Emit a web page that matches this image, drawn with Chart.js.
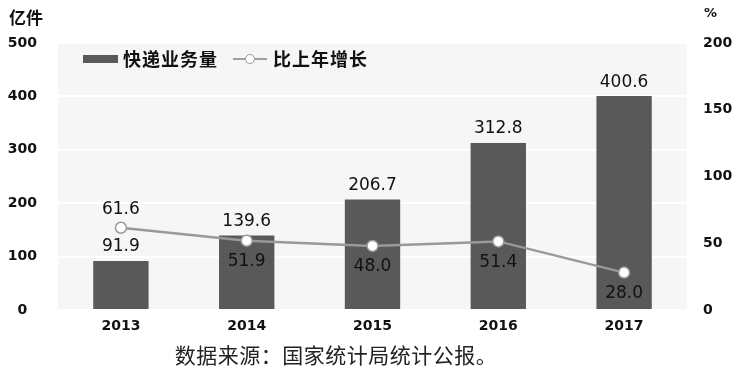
<!DOCTYPE html>
<html>
<head>
<meta charset="utf-8">
<script src="https://cdn.jsdelivr.net/npm/chart.js@4/dist/chart.umd.min.js"></script>
<style>
  body { margin: 0; background: #fff; }
  #wrap { position: relative; width: 736px; height: 370px; font-family: "DejaVu Sans", sans-serif; }
  #wrap canvas { position: absolute; left: 0; top: 0; }
  .unit { position: absolute; font-weight: bold; color: #111; font-family: "Noto Sans CJK SC", sans-serif; }
  .legend { position: absolute; top: 45px; font-size: 18px; letter-spacing: 1px; font-weight: bold; color: #111; font-family: "Noto Sans CJK SC", sans-serif; line-height: 26px; }
  #caption { position: absolute; left: 0; width: 672px; top: 340px; text-align: center; font-size: 21px; letter-spacing: 0.5px; color: #222; font-family: "Noto Sans CJK SC", sans-serif; line-height: 28px; }
</style>
</head>
<body>
<div id="wrap">
  <canvas id="chart" width="736" height="370"></canvas>
  <div class="unit" style="left:9px; top:4px; font-size:17px;">亿件</div>
  <div class="unit" style="left:704px; top:5px; font-size:13px; font-family:'DejaVu Sans',sans-serif;">%</div>
  <div class="legend" style="left:83px;"><span style="display:inline-block;width:35px;height:8px;background:#595959;vertical-align:middle;margin-right:5px;position:relative;top:-2px;"></span>快递业务量</div>
  <div class="legend" style="left:233px;">
    <span style="display:inline-block;position:relative;width:34px;height:10px;vertical-align:middle;margin-right:6px;top:-2px;">
      <span style="position:absolute;left:0;top:4px;width:34px;height:2px;background:#a0a0a0;"></span>
      <span style="position:absolute;left:12px;top:0;width:8px;height:8px;border:1px solid #999;border-radius:50%;background:#fff;"></span>
    </span>比上年增长</div>
  <div id="caption">数据来源：国家统计局统计公报。</div>
</div>
<script>
// 数据
const years = ['2013', '2014', '2015', '2016', '2017'];
const volume = [91.9, 139.6, 206.7, 312.8, 400.6];   // 快递业务量 (亿件)
const growth = [61.6, 51.9, 48.0, 51.4, 28.0];       // 比上年增长 (%)
const growthLabelAbove = [true, false, false, false, false];

const tickFont = { family: '"DejaVu Sans", sans-serif', size: 14, weight: 'bold' };

// plot background
const bgPlugin = {
    id: 'plotBg',
    beforeDraw(chart) {
        const a = chart.chartArea, ctx = chart.ctx;
        ctx.save();
        ctx.fillStyle = '#f6f6f6';
        ctx.fillRect(a.left, a.top, a.right - a.left, a.bottom - a.top);
        ctx.restore();
    }
};

// value labels
const labelPlugin = {
    id: 'valueLabels',
    afterDatasetsDraw(chart) {
        const ctx = chart.ctx;
        ctx.save();
        ctx.font = '17px "DejaVu Sans", sans-serif';
        ctx.fillStyle = '#111';
        ctx.textAlign = 'center';
        ctx.textBaseline = 'middle';
        chart.getDatasetMeta(1).data.forEach((el, i) => {
            ctx.fillText(volume[i].toFixed(1), el.x, el.y - 14);
        });
        chart.getDatasetMeta(0).data.forEach((el, i) => {
            const dy = growthLabelAbove[i] ? -18 : 21;
            ctx.fillText(growth[i].toFixed(1), el.x, el.y + dy);
        });
        ctx.restore();
    }
};

new Chart(document.getElementById('chart'), {
    data: {
        labels: years,
        datasets: [
            {
                type: 'line', label: '比上年增长', data: growth, yAxisID: 'y1', order: 0,
                borderColor: '#999999', borderWidth: 2.5, tension: 0,
                pointRadius: 5.5, pointBackgroundColor: '#fff', pointBorderColor: '#999999', pointBorderWidth: 1.5
            },
            {
                type: 'bar', label: '快递业务量', data: volume, yAxisID: 'y', order: 1,
                backgroundColor: '#595959', barPercentage: 0.44, categoryPercentage: 1
            }
        ]
    },
    options: {
        responsive: false,
        animation: false,
        layout: { padding: { top: 43, bottom: 0, left: 0, right: 0 } },
        plugins: { legend: { display: false }, tooltip: { enabled: false } },
        scales: {
            x: {
                grid: { display: false, drawTicks: false },
                border: { display: false },
                ticks: { font: tickFont, color: '#111', padding: 8 },
                afterFit(s) { s.height = 60; }
            },
            y: {
                position: 'left', min: 0, max: 500,
                ticks: { stepSize: 100, font: tickFont, color: '#111', padding: 21, crossAlign: 'center' },
                grid: { color: '#ffffff', lineWidth: 2, drawTicks: false },
                border: { display: false },
                afterFit(s) { s.width = 58; }
            },
            y1: {
                position: 'right', min: 0, max: 200,
                ticks: { stepSize: 50, font: tickFont, color: '#111', padding: 16 },
                grid: { display: false, drawTicks: false },
                border: { display: false },
                afterFit(s) { s.width = 49; }
            }
        }
    },
    plugins: [bgPlugin, labelPlugin]
});
</script>
</body>
</html>
